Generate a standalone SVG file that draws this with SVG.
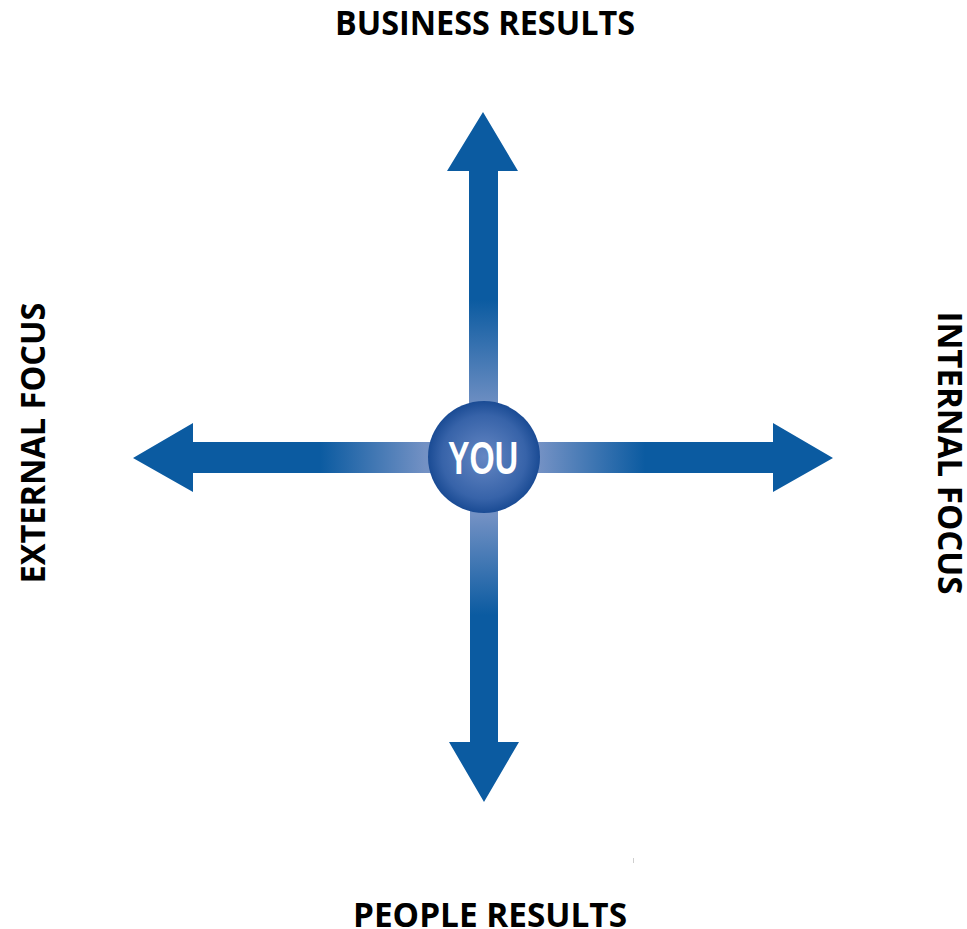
<svg xmlns="http://www.w3.org/2000/svg" width="967" height="929" viewBox="0 0 967 929">
  <style>
    .label { font-family: "Open Sans", "Liberation Sans", sans-serif; font-weight: bold; font-size: 34px; fill: #000; }
    .you { font-family: "Liberation Sans", "DejaVu Sans", sans-serif; font-weight: bold; font-size: 47px; fill: #fff; }
  </style>
  <defs>
    <linearGradient id="gUp" gradientUnits="userSpaceOnUse" x1="0" y1="300" x2="0" y2="410">
      <stop offset="0" stop-color="#0b5ba1"/>
      <stop offset="1" stop-color="#7391c4"/>
    </linearGradient>
    <linearGradient id="gDown" gradientUnits="userSpaceOnUse" x1="0" y1="515" x2="0" y2="615">
      <stop offset="0" stop-color="#7391c4"/>
      <stop offset="1" stop-color="#0b5ba1"/>
    </linearGradient>
    <linearGradient id="gLeft" gradientUnits="userSpaceOnUse" x1="425" y1="0" x2="320" y2="0">
      <stop offset="0" stop-color="#7391c4"/>
      <stop offset="1" stop-color="#0b5ba1"/>
    </linearGradient>
    <linearGradient id="gRight" gradientUnits="userSpaceOnUse" x1="540" y1="0" x2="645" y2="0">
      <stop offset="0" stop-color="#7391c4"/>
      <stop offset="1" stop-color="#0b5ba1"/>
    </linearGradient>
    <radialGradient id="gHub" cx="0.5" cy="0.5" r="0.5">
      <stop offset="0" stop-color="#6587c3"/>
      <stop offset="0.75" stop-color="#3763a9"/>
      <stop offset="1" stop-color="#1a4b94"/>
    </radialGradient>
  </defs>

  <!-- axis arrows -->
  <g id="connectors">
    <polygon id="arrow-up" fill="url(#gUp)" points="483,112 518,171 498,171 498,425 469,425 469,171 447,171"/>
    <polygon id="arrow-down" fill="url(#gDown)" points="484,802 519,742 498,742 498,495 470,495 470,742 449,742"/>
    <polygon id="arrow-left" fill="url(#gLeft)" points="133,458 193,423 193,442 445,442 445,473 193,473 193,492"/>
    <polygon id="arrow-right" fill="url(#gRight)" points="833,458 773,423 773,442 525,442 525,473 773,473 773,492"/>
  </g>

  <!-- centre hub -->
  <g id="you">
    <circle cx="484" cy="457" r="56" fill="url(#gHub)"/>
    <text class="you" x="483" y="474" text-anchor="middle" textLength="70" lengthAdjust="spacingAndGlyphs">YOU</text>
  </g>

  <g id="business-results">
    <text class="label" x="485" y="35" text-anchor="middle" textLength="300" lengthAdjust="spacingAndGlyphs">BUSINESS RESULTS</text>
  </g>
  <g id="people-results">
    <text class="label" x="490" y="927" text-anchor="middle" textLength="274" lengthAdjust="spacingAndGlyphs">PEOPLE RESULTS</text>
  </g>
  <g id="external-focus">
    <text class="label" transform="translate(45,443) rotate(-90)" x="0" y="0" text-anchor="middle" textLength="281" lengthAdjust="spacingAndGlyphs">EXTERNAL FOCUS</text>
  </g>
  <g id="internal-focus">
    <text class="label" transform="translate(938,453) rotate(90)" x="0" y="0" text-anchor="middle" textLength="283" lengthAdjust="spacingAndGlyphs">INTERNAL FOCUS</text>
  </g>

  <rect x="633" y="858" width="1" height="5" fill="#cfcfcf"/>
</svg>
